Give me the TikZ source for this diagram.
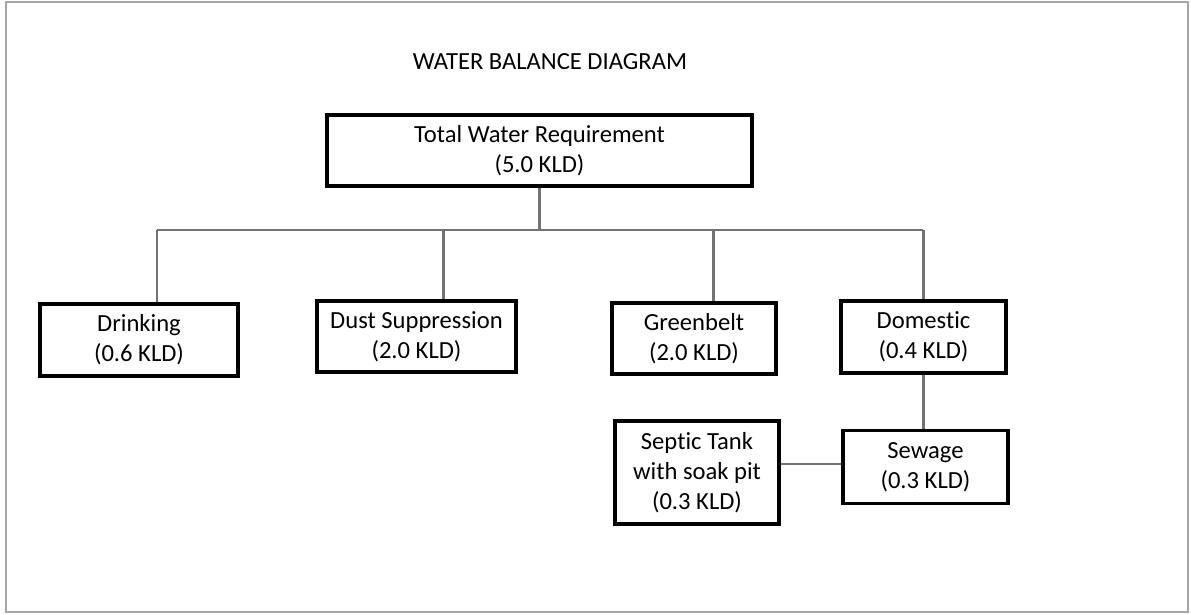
\documentclass[tikz,border=0pt]{standalone}
\usepackage{fontspec}
\setmainfont[RawFeature=-liga]{Carlito}
\usepackage{tikz}
\usetikzlibrary{positioning}

\begin{document}
\begin{tikzpicture}[
  box/.style={draw, line width=1.9pt, align=center, inner sep=2pt, font=\fontsize{14}{17}\selectfont},
  link/.style={draw=gray!90!black, line width=1.7pt},
  frame/.style={draw=gray!70, line width=0.6pt}
]
  \useasboundingbox (0,0) rectangle (23.82,-12.3);
  \draw[frame] (0.12,-0.04) rectangle (23.76,-12.24);

  \node[font=\fontsize{14}{16}\selectfont] (title) at (11.0,-1.24) {WATER BALANCE DIAGRAM};
  \node[box, minimum width=8.5cm, minimum height=1.42cm] (total) at (10.79,-3.01) {Total Water Requirement\\(5.0 KLD)};

  \node[box, minimum width=3.96cm, minimum height=1.44cm] (drink) at (2.78,-6.8) {Drinking\\(0.6 KLD)};
  \node[box, minimum width=3.98cm, minimum height=1.42cm] (dust) at (8.33,-6.73) {Dust Suppression\\(2.0 KLD)};
  \node[box, minimum width=3.28cm, minimum height=1.42cm] (green) at (13.88,-6.77) {Greenbelt\\(2.0 KLD)};
  \node[box, minimum width=3.3cm, minimum height=1.44cm] (dom) at (18.47,-6.74) {Domestic\\(0.4 KLD)};
  \node[box, minimum width=3.3cm, minimum height=1.46cm, below=1.08cm of dom.south, anchor=north, xshift=0.04cm] (sew) {Sewage\\(0.3 KLD)};
  \node[box, minimum width=3.28cm, minimum height=2.06cm] (septic) at (13.94,-9.45) {Septic Tank\\with soak pit\\(0.3 KLD)};

  % branch points on the bar
  \coordinate (bar) at (total.south |- 0,-4.6);
  \coordinate (j1) at (3.14,-4.6);
  \coordinate (j2) at (8.86,-4.6);
  \coordinate (j3) at (14.26,-4.6);
  \coordinate (j4) at (18.46,-4.6);

  \draw[link] (total.south) -- (bar);
  \draw[link] (j1) -- (j4);
  \draw[link] (j1) -- (j1 |- drink.north);
  \draw[link] (j2) -- (j2 |- dust.north);
  \draw[link] (j3) -- (j3 |- green.north);
  \draw[link] (j4) -- (j4 |- dom.north);
  \draw[link] (j4 |- dom.south) -- (j4 |- sew.north);
  \draw[link] (sew.west |- 0,-9.28) -- (septic.east |- 0,-9.28);
\end{tikzpicture}
\end{document}
